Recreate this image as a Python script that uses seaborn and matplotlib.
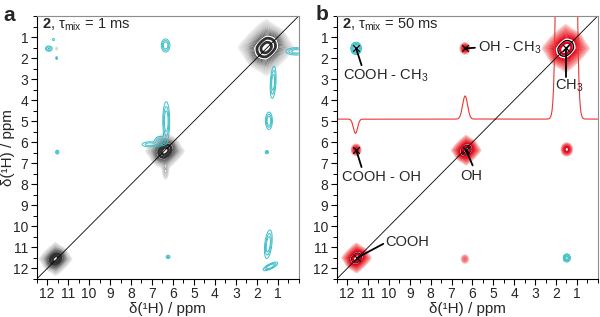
import numpy as np
import matplotlib
matplotlib.use("Agg")
import matplotlib.pyplot as plt
import seaborn as sns
from matplotlib.colors import LinearSegmentedColormap
from matplotlib.ticker import MultipleLocator

# ---------------- data (ppm) ----------------
ppm_range = [0.0, 12.5]
tick_values = [1, 2, 3, 4, 5, 6, 7, 8, 9, 10, 11, 12]

# panel a: diagonal (positive, grey) peaks: x, y, size factor, amplitude
a_diag_x = [1.55, 6.38, 11.6]
a_diag_y = [1.50, 6.42, 11.55]
a_diag_size = [0.95, 0.66, 0.56]
a_diag_amp = [1.0, 1.0, 1.0]
# panel a: small positive features (gaussian): x, y, sx, sy, amp
a_pos_x = [11.55, 6.35]
a_pos_y = [1.55, 7.35]
a_pos_sx = [0.04, 0.07]
a_pos_sy = [0.06, 0.22]
a_pos_amp = [0.02, 0.05]
# panel a: negative (cyan) cross peaks (gaussian): x, y, sx, sy, rho, amp
a_neg_x = [11.92, 11.70, 11.55, 6.35, 0.12, 1.22, 1.42, 1.52, 11.52, 6.32, 6.60, 7.10, 6.23, 1.45, 1.35]
a_neg_y = [1.55, 1.12, 2.00, 1.40, 1.68, 3.15, 4.98, 6.47, 6.47, 5.00, 5.95, 6.10, 11.45, 10.85, 11.90]
a_neg_sx = [0.09, 0.03, 0.03, 0.10, 0.25, 0.07, 0.08, 0.05, 0.05, 0.08, 0.15, 0.22, 0.06, 0.09, 0.17]
a_neg_sy = [0.07, 0.04, 0.05, 0.15, 0.09, 0.38, 0.20, 0.05, 0.06, 0.45, 0.12, 0.07, 0.05, 0.33, 0.10]
a_neg_rho = [0.0, 0.0, 0.0, 0.0, 0.0, 0.3, 0.0, 0.0, 0.0, 0.0, 0.0, 0.0, 0.0, 0.4, 0.75]
a_neg_amp = [0.6, 0.3, 0.3, 1.0, 0.8, 0.9, 1.0, 0.4, 0.4, 1.0, 0.7, 0.5, 0.4, 1.0, 1.0]

# panel b: diagonal (positive, red) peaks
b_diag_x = [1.53, 6.30, 11.55]
b_diag_y = [1.54, 6.38, 11.50]
b_diag_size = [0.8, 0.5, 0.5]
b_diag_amp = [1.0, 1.0, 1.0]
# panel b: positive (red) cross peaks
b_pos_x = [6.36, 11.57, 1.48, 6.36]
b_pos_y = [1.54, 6.36, 6.34, 11.55]
b_pos_s = [0.09, 0.09, 0.10, 0.09]
b_pos_amp = [0.24, 0.24, 0.32, 0.05]
# panel b: negative (cyan) cross peaks
b_neg_x = [11.57, 1.48]
b_neg_y = [1.54, 11.50]
b_neg_s = [0.13, 0.10]
b_neg_amp = [1.0, 0.6]

# panel b: 1D trace (baseline, peak centres, heights, widths in ppm units)
trace_base = 4.9
trace_c = [11.6, 6.35, 1.5]
trace_h = [-0.68, 1.1, 280.0]
trace_s = [0.10, 0.12, 0.19]

# panel b: assignment markers
mark_x = [11.57, 6.36, 1.53, 11.57, 6.30, 11.54]
mark_y = [1.54, 1.54, 1.54, 6.36, 6.38, 11.50]
labels = ["COOH - CH$_3$", "OH - CH$_3$", "CH$_3$", "COOH - OH", "OH", "COOH"]

# ---------------- style ----------------
sns.set_style("ticks")
plt.rcParams['font.family'] = ['Liberation Sans', 'DejaVu Sans']
plt.rcParams['mathtext.fontset'] = 'custom'
plt.rcParams['mathtext.rm'] = 'Liberation Sans'
plt.rcParams['mathtext.it'] = 'Liberation Sans:italic'
plt.rcParams['mathtext.bf'] = 'Liberation Sans:bold'

ppm = np.linspace(ppm_range[0], ppm_range[1], 751)
X, Y = np.meshgrid(ppm, ppm)


def gau2d(x0, y0, sx, sy, rho, amp):
    a = (X - x0) / sx
    b = (Y - y0) / sy
    return amp * np.exp(-(a * a + b * b - 2 * rho * a * b) / (2 * (1 - rho ** 2)))


def diamond(x0, y0, s, p=1.15):
    d = (np.abs((X - x0) / s) ** p + np.abs((Y - y0) / s) ** p) ** (1 / p)
    return np.exp(-d * d / 2)


def diag_peak(x0, y0, size, amp):
    core = gau2d(x0, y0, 0.32 * size, 0.32 * size, 0.4, 1.0)
    wide = 0.5 * diamond(x0, y0, 0.52 * size)
    return amp * (core + wide) / 1.5


fig = plt.figure(figsize=(6.0, 3.17), dpi=100)
axA = fig.add_axes([36.7 / 600, (317 - 279) / 317, 262 / 600, 263 / 317])
axB = fig.add_axes([336.7 / 600, (317 - 279) / 317, 261 / 600, 263 / 317])

cyan = '#3dbfc9'
lev_low = 0.008 * 1.25 ** np.arange(16)

# ---- panel a ----
Zg = sum(diag_peak(x, y, s, A) for x, y, s, A in zip(a_diag_x, a_diag_y, a_diag_size, a_diag_amp))
Zg = Zg + sum(gau2d(x, y, sx, sy, 0, A) for x, y, sx, sy, A in zip(a_pos_x, a_pos_y, a_pos_sx, a_pos_sy, a_pos_amp))
gcm = LinearSegmentedColormap.from_list('g', ['#f0f0f0', '#bdbdbd', '#4a4a4a'])
axA.contour(X, Y, Zg, levels=lev_low, colors=[gcm(t) for t in np.linspace(0, 1, len(lev_low))], linewidths=0.6)
axA.contour(X, Y, Zg, levels=[0.42, 0.75], colors='#303030', linewidths=2.0)

Zc = sum(gau2d(x, y, sx, sy, r, A) for x, y, sx, sy, r, A in
         zip(a_neg_x, a_neg_y, a_neg_sx, a_neg_sy, a_neg_rho, a_neg_amp))
axA.contour(X, Y, Zc, levels=[0.12, 0.3, 0.55], colors=cyan, linewidths=0.7)

sns.lineplot(x=ppm_range, y=ppm_range, ax=axA, color='k', lw=0.6)

# ---- panel b ----
Zr = sum(diag_peak(x, y, s, A) for x, y, s, A in zip(b_diag_x, b_diag_y, b_diag_size, b_diag_amp))
Zr = Zr + sum(gau2d(x, y, s, s * 1.15, 0, A) for x, y, s, A in zip(b_pos_x, b_pos_y, b_pos_s, b_pos_amp))
rcm = LinearSegmentedColormap.from_list('r', ['#fcd6d6', '#f26a6a', '#e2001a'])
axB.contour(X, Y, Zr, levels=lev_low, colors=[rcm(t) for t in np.linspace(0, 1, len(lev_low))], linewidths=0.8)
axB.contour(X, Y, Zr, levels=[0.42], colors='k', linewidths=1.0)
axB.contour(X, Y, Zr, levels=[0.62], colors='#e2001a', linewidths=1.8)

Zb = sum(gau2d(x, y, s, s * 1.15, 0, A) for x, y, s, A in zip(b_neg_x, b_neg_y, b_neg_s, b_neg_amp))
axB.contourf(X, Y, Zb, levels=[0.15, 0.6, 10], colors=['#a6dfe5', '#8ad4dc'])
axB.contour(X, Y, Zb, levels=[0.15, 0.3, 0.45], colors=cyan, linewidths=0.7)

trace = trace_base - sum(h * np.exp(-(ppm - c) ** 2 / (2 * s ** 2)) for c, h, s in zip(trace_c, trace_h, trace_s))
sns.lineplot(x=ppm, y=trace, ax=axB, color='#ee3535', lw=0.8, sort=False)
sns.lineplot(x=ppm_range, y=ppm_range, ax=axB, color='k', lw=0.6)

sns.scatterplot(x=mark_x, y=mark_y, ax=axB, marker='x', color='k', s=22, linewidth=0.9, zorder=5)

ann_line_end = [(11.31, 2.34), (5.88, 1.51), (1.53, 2.90), (11.31, 7.18), (5.99, 7.10), (10.27, 10.83)]
ann_text_pos = [(12.18, 3.02), (5.73, 1.70), (2.04, 3.49), (12.26, 7.82), (6.60, 7.78), (10.19, 10.92)]
for (mx, my), (ex, ey), (tx, ty), lab in zip(zip(mark_x, mark_y), ann_line_end, ann_text_pos, labels):
    axB.plot([mx, ex], [my, ey], color='k', lw=1.3, zorder=6)
    axB.text(tx, ty, lab, ha='left', va='baseline', fontsize=10.5, zorder=7)

# ---- common axes formatting ----
for ax, tmix in [(axA, '1'), (axB, '50')]:
    ax.set_xlim(ppm_range[1], ppm_range[0])
    ax.set_ylim(ppm_range[1], ppm_range[0])
    ax.set_xticks(tick_values)
    ax.set_yticks(tick_values)
    ax.xaxis.set_minor_locator(MultipleLocator(0.5))
    ax.yaxis.set_minor_locator(MultipleLocator(0.5))
    ax.tick_params(which='major', direction='out', length=4, width=0.8, labelsize=10, pad=2, color='k')
    ax.tick_params(which='minor', direction='out', length=3, width=0.7, color='k')
    for side in ['top', 'right']:
        ax.spines[side].set_color('#8c8c8c')
        ax.spines[side].set_linewidth(0.8)
    for side in ['left', 'bottom']:
        ax.spines[side].set_color('k')
        ax.spines[side].set_linewidth(0.8)
    ax.set_xlabel('δ(¹H) / ppm', fontsize=11)
    ax.xaxis.set_label_coords(0.5, -0.088)
    ax.set_ylabel('')
    ax.text(0.02, 0.966, r'$\mathbf{2}$, τ$_{\rm mix}$ = ' + tmix + ' ms', transform=ax.transAxes,
            ha='left', va='center', fontsize=10.5, zorder=8)

axA.set_ylabel('δ(¹H) / ppm', fontsize=11)
axA.yaxis.set_label_coords(-0.083, 0.5)

fig.text(3 / 600, 1 - 21 / 317, 'a', fontsize=15, fontweight='bold', va='baseline')
fig.text(316 / 600, 1 - 20 / 317, 'b', fontsize=15, fontweight='bold', va='baseline')

fig.savefig('out.png', dpi=100)
